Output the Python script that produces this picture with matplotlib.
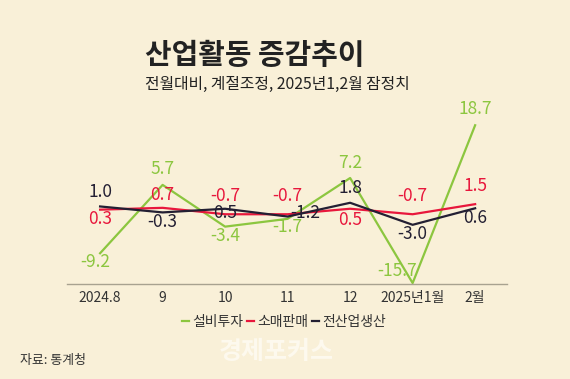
import numpy as np
from matplotlib import pyplot as plt

plt.rcParams['font.family'] = ['Noto Sans CJK KR', 'DejaVu Sans']

## chart data
months = ['2024.8', '9', '10', '11', '12', '2025년1월', '2월']
invest = [-9.2, 5.7, -3.4, -1.7, 7.2, -15.7, 18.7]    # 설비투자
retail = [0.3, 0.7, -0.7, -0.7, 0.5, -0.7, 1.5]       # 소매판매
industry = [1.0, -0.3, 0.5, -1.2, 1.8, -3.0, 0.6]     # 전산업생산

bg = '#f9f0d8'
c_green = '#8cc63f'
c_red = '#e8173c'
c_dark = '#231f33'

fig = plt.figure(figsize=(5.7, 3.79), dpi=100, facecolor=bg)
ax = fig.add_axes([0.1175, 0.2507, 0.772, 0.4854])
ax.set_facecolor(bg)

x = np.arange(len(months))
ax.plot(x, invest, color=c_green, lw=1.6, label='설비투자')
ax.plot(x, retail, color=c_red, lw=1.6, label='소매판매')
ax.plot(x, industry, color=c_dark, lw=1.6, label='전산업생산')

# label offsets (points) for each value
off_g = [(-3.6, -6.5), (0, 11.5), (0, -7), (0, -6), (0, 11), (-11.5, 8.6), (0, 12)]
off_r = [(0, -6.5), (0, 9), (0, 13.5), (0, 13.5), (0, -8), (0, 13.5), (0, 13)]
off_k = [(0, 10.4), (0, -7), (0, -3), (13, 2.5), (0, 11), (0, -6.5), (0, -7)]
for vals, offs, col in [(invest, off_g, c_green), (retail, off_r, c_red),
                        (industry, off_k, c_dark)]:
    for i, v in enumerate(vals):
        ax.annotate(f'{v:.1f}', (x[i], v), xytext=offs[i], textcoords='offset points',
                    ha='center', va='center', fontsize=12.5, color=col)

ax.set_xlim(-0.53, 6.51)
ax.set_ylim(-15.9, 24.2)
ax.set_xticks(x)
ax.set_xticklabels(months, fontsize=10, color='#333333')
ax.tick_params(axis='x', length=0, pad=5)
ax.set_yticks([])
for s in ['top', 'right', 'left']:
    ax.spines[s].set_visible(False)
ax.spines['bottom'].set_color('#a8a290')
ax.spines['bottom'].set_linewidth(1)

leg = fig.legend(loc='center', bbox_to_anchor=(0.498, 0.150), ncol=3, frameon=False,
                 fontsize=10, handlelength=0.5, handletextpad=0.2, columnspacing=0.3)
for t in leg.get_texts():
    t.set_color('#333333')

fig.text(0.254, 0.855, '산업활동 증감추이', fontsize=20.8, fontweight='bold',
         color='#222222', va='center')
fig.text(0.254, 0.776, '전월대비, 계절조정, 2025년1,2월 잠정치', fontsize=11.4,
         color='#222222', va='center')
fig.text(0.035, 0.05, '자료: 통계청', fontsize=9.3, color='#333333', va='center')
fig.text(0.384, 0.072, '경제포커스', fontsize=18, fontweight='bold', color='#fdf9ee',
         va='center')

fig.savefig('out.png', dpi=100, facecolor=bg)
